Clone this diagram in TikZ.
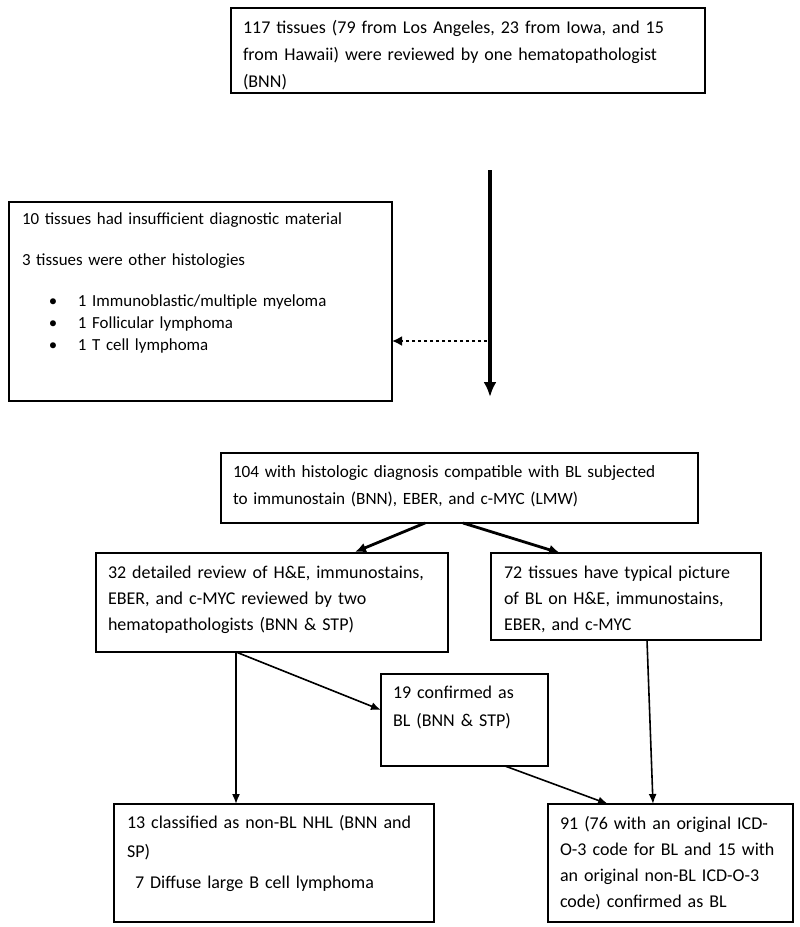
\documentclass[tikz,border=0pt]{standalone}
\usepackage{fontspec}
\setmainfont{Carlito}
\usetikzlibrary{arrows.meta}

\newcommand{\listitem}[1]{\hspace*{27pt}\makebox[29pt][l]{\textbullet}#1}

\begin{document}
\begin{tikzpicture}[
        x=1pt, y=-1pt,
        font=\fontsize{18}{26}\selectfont,
        box/.style = {rectangle, draw, line width=1.3pt, anchor=north west, align=left, outer sep=0pt, inner xsep=12pt, inner ysep=0pt, text height=25pt},
        link/.style = {-{Latex[length=10pt,width=8pt]}, line width=1.6pt},
        thick link/.style = {-{Latex[length=11pt,width=10pt]}, line width=2.8pt}
    ]
        \useasboundingbox (0,0) rectangle (800,927);

        % First review
        \node[box, text width=450pt, text depth=60pt] (review) at (231,8) {117 tissues (79 from Los Angeles, 23 from Iowa, and 15\\[1pt] from Hawaii) were reviewed by one hematopathologist\\[1pt] (BNN)};

        % Excluded tissues
        \node[box, font=\fontsize{16.9}{26}\selectfont, inner xsep=13pt, text width=357pt, text height=22pt, text depth=177pt] (excluded) at (9,202) {10 tissues had insufficient diagnostic material\\[15pt] 3 tissues were other histologies\\[15pt] \listitem{1 Immunoblastic/multiple myeloma}\\[-4pt] \listitem{1 Follicular lymphoma}\\[-4pt] \listitem{1 T cell lymphoma}};

        % Compatible with BL
        \node[box, font=\fontsize{17.2}{26}\selectfont, text width=453pt, text height=24pt, text depth=46pt] (compatible) at (221,453) {104 with histologic diagnosis compatible with BL subjected\\[1pt] to immunostain (BNN), EBER, and c-MYC (LMW)};
        \node[box, text width=328pt, text depth=74pt] (detailed) at (96,553) {32 detailed review of H\&E, immunostains,\\ EBER, and c-MYC reviewed by two\\ hematopathologists (BNN \& STP)};
        \node[box, inner xsep=13pt, text width=244pt, text depth=62pt] (typical) at (491,553) {72 tissues have typical picture\\ of BL on H\&E, immunostains,\\ EBER, and c-MYC};

        % Outcome of the second review
        \node[box, text width=143pt, text height=24pt, text depth=68pt] (confirmed) at (381,674) {19 confirmed as\\[2pt] BL (BNN \& STP)};
        \node[box, inner xsep=13pt, text width=294pt, text height=24pt, text depth=94pt] (nonbl) at (114,804) {13 classified as non-BL NHL (BNN and\\[3pt] SP)\\[5pt] \hspace*{8pt}7 Diffuse large B cell lymphoma};
        \node[box, text width=221pt, text depth=93pt] (final) at (548,804) {91 (76 with an original ICD-\\ O-3 code for BL and 15 with\\ an original non-BL ICD-O-3\\ code) confirmed as BL};

        % Arrows
        \coordinate (flowtop) at (490,170);
        \coordinate (flowbot) at (490,397);
        \coordinate (split) at (487,341);
        \draw[-{Latex[length=15pt,width=13pt]}, line width=4pt] (flowtop) -- (flowbot);
        \draw[-{Latex[length=10pt,width=10pt]}, line width=2.6pt, dash pattern=on 2.6pt off 3.4pt] (split) -- (split -| excluded.east);
        \draw[thick link] ([xshift=-34.5pt]compatible.south) -- ([xshift=83pt,yshift=1pt]detailed.north);
        \draw[thick link] ([xshift=3.5pt]compatible.south) -- ([xshift=-66pt]typical.north);
        \draw[link] ([xshift=-36pt]detailed.south) -- ([xshift=-36pt]detailed.south |- nonbl.north);
        \draw[link] ([xshift=-36pt]detailed.south) -- ([yshift=10pt]confirmed.west);
        \draw[link] ([xshift=40.5pt]confirmed.south) -- ([xshift=-62.5pt]final.north);
        \draw[link] ([xshift=21pt]typical.south) -- ([xshift=-17.5pt]final.north);
    \end{tikzpicture}
\end{document}
